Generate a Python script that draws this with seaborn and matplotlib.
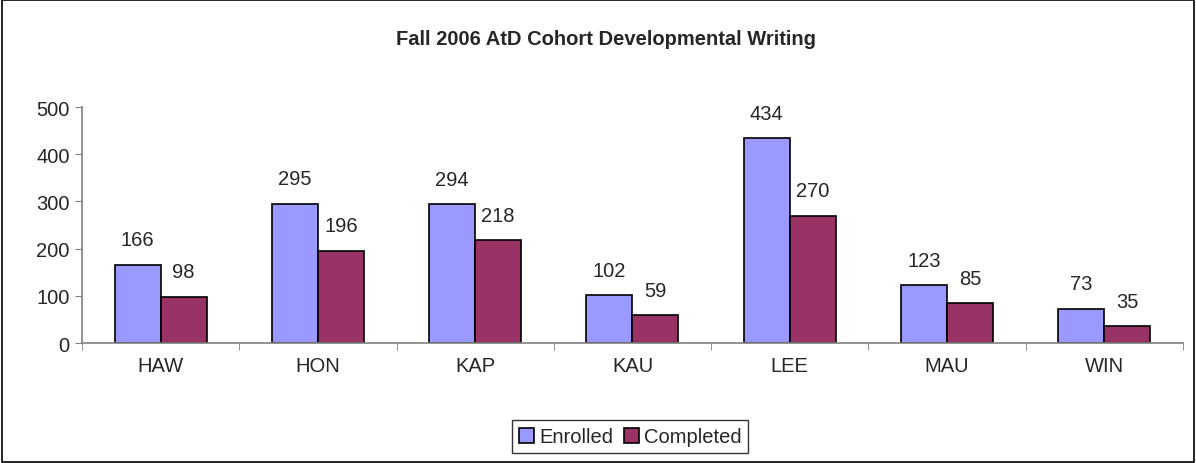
import matplotlib
matplotlib.use("Agg")
import matplotlib.pyplot as plt
import seaborn as sns
import pandas as pd
import numpy as np
from matplotlib.patches import Rectangle, Patch

categories = ["HAW", "HON", "KAP", "KAU", "LEE", "MAU", "WIN"]
enrolled = [166, 295, 294, 102, 434, 123, 73]
completed = [98, 196, 218, 59, 270, 85, 35]
series_names = ["Enrolled", "Completed"]
colors = ["#9999FF", "#993366"]

df = pd.DataFrame({
    "campus": categories * 2,
    "value": enrolled + completed,
    "series": [series_names[0]] * len(categories) + [series_names[1]] * len(categories),
})

sns.set_style("white")
plt.rcParams["font.family"] = ["Liberation Sans", "DejaVu Sans"]

fig = plt.figure(figsize=(11.96, 4.64), dpi=100)
ax = fig.add_axes([0.0686, 0.2586, 0.9204, 0.5086])

sns.barplot(data=df, x="campus", y="value", hue="series", palette=colors,
            width=0.585, edgecolor="black", linewidth=1.2, ax=ax, legend=False,
            saturation=1)

for cont in ax.containers:
    ax.bar_label(cont, padding=11, fontsize=14.5)

ax.set_ylim(0, 500)
ax.set_xlim(-0.5, len(categories) - 0.5)
ax.set_yticks([0, 100, 200, 300, 400, 500])
ax.set_xlabel("")
ax.set_ylabel("")
ax.tick_params(axis="y", labelsize=14.5, length=5, direction="out", color="#808080", left=True, pad=4)
ax.tick_params(axis="x", labelsize=14.5, length=0, pad=9)
ax.set_xticks(np.arange(len(categories) + 1) - 0.5, minor=True)
ax.tick_params(axis="x", which="minor", length=5, direction="out", color="#808080", bottom=True)
for s in ["top", "right"]:
    ax.spines[s].set_visible(False)
for s in ["left", "bottom"]:
    ax.spines[s].set_color("#808080")
    ax.spines[s].set_linewidth(1.2)

fig.text(0.507, 0.914, "Fall 2006 AtD Cohort Developmental Writing",
         ha="center", va="center", fontsize=14.5, fontweight="bold")

handles = [Patch(facecolor=c, edgecolor="black", linewidth=1.2) for c in colors]
leg = fig.legend(handles, series_names, loc="center", bbox_to_anchor=(0.527, 0.0565),
                 ncol=2, fontsize=14.5, frameon=True, fancybox=False, borderpad=0.35,
                 handlelength=0.75, handleheight=0.75, handletextpad=0.25, columnspacing=0.5)
leg.get_frame().set_edgecolor("black")
leg.get_frame().set_linewidth(1.0)

fig.patches.append(Rectangle((0.002, 0.002), 0.996, 0.996, transform=fig.transFigure,
                             fill=False, edgecolor="black", linewidth=1.2))

fig.savefig("out.png", dpi=100)
